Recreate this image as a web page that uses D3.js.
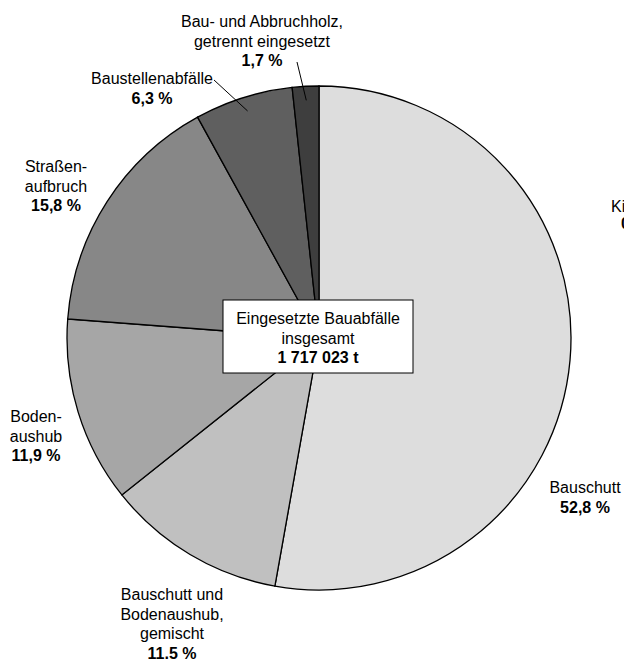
<!DOCTYPE html>
<html>
<head>
	<meta charset="utf-8">
	<title>Eingesetzte Bauabfälle</title>
	<style>
		body { margin: 0; background: #fff; }
		svg { display: block; font-family: "Liberation Sans", Arial, sans-serif; }
		.slice { stroke: #000; stroke-width: 1.3; }
		.label { font-size: 16px; fill: #000; text-anchor: middle; }
		.label .val { font-weight: bold; }
		.leader { stroke: #000; stroke-width: 1; fill: none; }
		.box rect { fill: #fff; stroke: #000; stroke-width: 1; }
		.box text { font-size: 16px; text-anchor: middle; }
	</style>
</head>
<body>
	<div class="chart"></div>

	<script src="https://d3js.org/d3.v7.min.js"></script>
	<script>
		// Data (clockwise from 12 o'clock)
		var categories = ["Bauschutt", "Bauschutt und Bodenaushub, gemischt", "Bodenaushub",
			"Straßenaufbruch", "Baustellenabfälle", "Bau- und Abbruchholz, getrennt eingesetzt"];
		var shares = [52.8, 11.5, 11.9, 15.8, 6.3, 1.7];
		var labelLines = [
			["Bauschutt"],
			["Bauschutt und", "Bodenaushub,", "gemischt"],
			["Boden-", "aushub"],
			["Straßen-", "aufbruch"],
			["Baustellenabfälle"],
			["Bau- und Abbruchholz,", "getrennt eingesetzt"]
		];
		var totalLines = ["Eingesetzte Bauabfälle", "insgesamt"];
		var totalValue = "1 717 023 t";
		var colors = ["#dddddd", "#c0c0c0", "#a6a6a6", "#878787", "#5f5f5f", "#3e3e3e"];

		// Layout
		var W = 624, H = 659;
		var cx = 319, cy = 338, r = 252;
		var lineH = 19.5;
		// label anchor: centre x, first baseline, leader start (or null)
		var labelPos = [
			{ x: 585, y: 493, lead: null },
			{ x: 172, y: 600, lead: null },
			{ x: 36, y: 422, lead: null },
			{ x: 56, y: 172, lead: null },
			{ x: 152, y: 84, lead: [214, 80] },
			{ x: 262, y: 27, lead: [297, 62] }
		];

		var de = d3.formatLocale({ decimal: ",", thousands: " ", grouping: [3], currency: ["", ""] });
		var fmt = de.format(".1f");

		var svg = d3.select(".chart").append("svg")
			.attr("width", W).attr("height", H);

		var pie = d3.pie().sort(null).value(function(d) { return d; });
		var arcs = pie(shares);
		var arc = d3.arc().innerRadius(0).outerRadius(r);
		var leadArc = d3.arc().innerRadius(238).outerRadius(238);

		var g = svg.append("g").attr("transform", "translate(" + cx + "," + cy + ")");
		g.selectAll("path.slice")
			.data(arcs)
			.enter().append("path")
			.attr("class", "slice")
			.attr("d", arc)
			.attr("fill", function(d, i) { return colors[i]; });

		// leader lines
		arcs.forEach(function(d, i) {
			var p = labelPos[i];
			if (!p.lead) return;
			var c = leadArc.centroid(d);
			svg.append("line").attr("class", "leader")
				.attr("x1", p.lead[0]).attr("y1", p.lead[1])
				.attr("x2", cx + c[0]).attr("y2", cy + c[1]);
		});

		// labels
		arcs.forEach(function(d, i) {
			var p = labelPos[i];
			var t = svg.append("text").attr("class", "label")
				.attr("x", p.x).attr("y", p.y);
			labelLines[i].forEach(function(s, j) {
				t.append("tspan").attr("x", p.x).attr("dy", j === 0 ? 0 : lineH).text(s);
			});
			t.append("tspan").attr("class", "val").attr("x", p.x).attr("dy", lineH)
				.text(fmt(shares[i]) + " %");
		});

		// label cut off at right edge
		var cut = svg.append("text").attr("class", "label").style("text-anchor", "start")
			.attr("x", 611).attr("y", 212);
		cut.append("tspan").attr("x", 611).text("Kiesschlamm");
		cut.append("tspan").attr("class", "val").attr("x", 621).attr("dy", 17).text("0,0 %");

		// centre box
		var box = svg.append("g").attr("class", "box");
		box.append("rect").attr("x", 223).attr("y", 300).attr("width", 190).attr("height", 73);
		var bt = box.append("text").attr("x", 318).attr("y", 324);
		totalLines.forEach(function(s, j) {
			bt.append("tspan").attr("x", 318).attr("dy", j === 0 ? 0 : lineH).text(s);
		});
		bt.append("tspan").attr("x", 318).attr("dy", lineH).style("font-weight", "bold").text(totalValue);
	</script>
</body>
</html>
